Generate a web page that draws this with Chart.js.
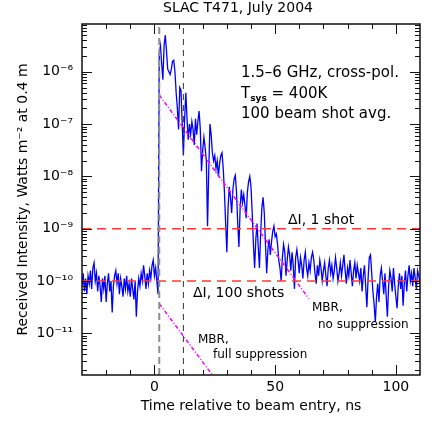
<!DOCTYPE html>
<html>
<head>
<meta charset="utf-8">
<script src="https://cdn.jsdelivr.net/npm/chart.js@4.4.1/dist/chart.umd.min.js"></script>
<style>
  html, body { margin: 0; padding: 0; background: #fff; }
</style>
</head>
<body>
<canvas id="pulse-chart" width="443" height="443"></canvas>
<script>
// averaged trace, sampled every 0.5 ns starting at -30 ns
const traceStart = -30;
const traceStep = 0.5;
// log10 of received intensity (W m^-2 at 0.4 m), one entry per sample
const traceLog = [
    -10.1, -9.85, -10.2, -9.95, -10.25, -9.9, -10.05, -9.8, -10.15, -9.75,
    -9.65, -10.0, -9.85, -10.2, -9.9, -10.1, -10.4, -9.95, -10.15, -9.9,
    -10.4, -10.05, -9.85, -10.2, -10.0, -10.6, -10.1, -9.9, -9.8, -10.05,
    -9.85, -10.25, -9.95, -10.1, -10.3, -9.95, -10.15, -9.9, -10.2, -10.05,
    -10.3, -9.95, -10.15, -10.35, -10.0, -10.68, -10.2, -9.95, -10.1, -9.85,
    -10.0, -9.7, -9.9, -10.15, -9.85, -10.05, -9.8, -9.95, -9.7, -9.6,
    -9.9, -9.75, -10.0, -10.25,
    -5.65, -5.5, -5.85, -6.15, -5.5, -5.3, -5.6, -5.95, -6.0, -6.05,
    -5.95, -5.8, -5.78, -6.0, -6.4, -6.7, -7.1, -6.3, -6.35, -7.0,
    -7.6, -6.9, -6.4, -6.9, -7.3, -7.0, -7.2, -6.95, -7.1, -7.4,
    -6.9, -7.2, -6.95, -6.75, -7.1, -7.9, -7.5, -7.25, -7.45, -7.7,
    -8.95, -7.9, -7.0, -7.2, -7.55, -7.7, -7.6, -7.85, -7.7, -8.0,
    -7.75, -7.6, -7.55, -7.85, -8.3, -8.9, -9.45, -8.6, -8.2, -8.4,
    -8.7, -8.25, -8.05, -7.98, -8.3, -8.9, -9.35, -8.6, -8.25, -8.5,
    -8.35, -8.55, -8.8, -8.3, -8.1, -8.0, -8.2, -8.7, -9.3, -9.75,
    -9.2, -8.9, -9.35, -9.75, -9.1, -8.6, -8.4, -8.7, -9.3, -9.85,
    -9.4, -9.2, -9.5, -9.25, -9.05, -8.95, -9.15, -9.1, -9.3, -9.6,
    -9.75, -10.0, -9.55, -9.3, -9.45, -9.9, -9.6, -9.35, -9.5, -9.8,
    -9.45, -9.7, -10.15, -9.55, -9.4,
    -9.6, -9.85, -9.55, -9.7, -9.95, -9.6, -9.45, -9.75, -9.9, -9.65,
    -9.8, -9.55, -9.45, -9.6, -9.85, -10.05, -9.7, -9.9, -9.6, -9.75,
    -10.0, -9.8, -9.65, -9.9, -10.1, -9.75, -9.6, -9.85, -9.7, -9.95,
    -9.8, -9.55, -9.75, -10.0, -9.85, -9.65, -9.9, -9.7, -9.5, -9.8,
    -10.05, -9.75, -9.9, -9.6, -9.85, -10.1, -9.8, -9.65, -9.95, -9.7,
    -9.85, -10.0, -9.75, -10.2, -9.9, -9.7, -10.1, -10.5, -9.95, -9.55,
    -9.5, -9.85, -10.2, -10.45, -10.78, -10.3, -10.05, -10.4, -9.9, -9.75,
    -10.0, -10.25, -9.85, -10.3, -10.68, -10.1, -9.8, -9.95, -10.2, -9.75,
    -10.05, -10.3, -10.52, -10.1, -9.85, -10.15, -9.9, -10.47, -10.05, -9.8,
    -10.2, -9.9, -9.7, -10.0, -9.85, -10.1, -9.75, -9.95, -10.15, -9.8,
    -9.9, -10.05
];

// marker times (ns)
const beamEntry = 2;
const gateEnd = 12;
// noise levels: 1 shot, 100 shots
const noiseLevels = [1e-9, 1e-10];
// MBR model end points [time, intensity]
const mbrNoSupp = [[2, 3.6e-7], [64, 4.6e-11]];
const mbrFullSupp = [[2, 3.7e-11], [24, 1.6e-12]];

const xRange = [-30, 110];
const yRange = [1.6e-12, 8.2e-6];
const xTickValues = [0, 50, 100];
const yTickValues = [1e-11, 1e-10, 1e-9, 1e-8, 1e-7, 1e-6];

const FONT = "'DejaVu Sans', sans-serif";
const SUP = { '-': '\u207B', '0': '\u2070', '1': '\u00B9', '2': '\u00B2', '3': '\u00B3',
    '4': '\u2074', '5': '\u2075', '6': '\u2076', '7': '\u2077', '8': '\u2078', '9': '\u2079' };

function powLabel(v) {
    const e = String(Math.round(Math.log10(v)));
    return '10' + e.split('').map(c => SUP[c]).join('');
}

const tracePoints = traceLog.map((v, i) => ({ x: traceStart + i * traceStep, y: Math.pow(10, v) }));

const frameAndText = {
    id: 'frameAndText',
    afterDatasetsDraw(chart) {
        const { ctx, chartArea: a, scales: { x, y } } = chart;
        ctx.save();
        ctx.strokeStyle = '#111';
        ctx.lineWidth = 1;
        ctx.beginPath();
        // x ticks, every 10 ns, long ones every 50
        for (let t = -20; t < xRange[1]; t += 10) {
            const px = Math.round(x.getPixelForValue(t)) + 0.5;
            const len = t % 50 === 0 ? 10 : 5;
            ctx.moveTo(px, a.bottom); ctx.lineTo(px, a.bottom - len);
            ctx.moveTo(px, a.top); ctx.lineTo(px, a.top + len);
        }
        // y ticks, decades and 2..9 minors
        for (let d = -12; d <= -5; d++) {
            for (let k = 1; k <= 9; k++) {
                const v = k * Math.pow(10, d);
                if (v < yRange[0] || v > yRange[1]) continue;
                const py = Math.round(y.getPixelForValue(v)) + 0.5;
                const len = k === 1 ? 10 : 5;
                ctx.moveTo(a.left, py); ctx.lineTo(a.left + len, py);
                ctx.moveTo(a.right, py); ctx.lineTo(a.right - len, py);
            }
        }
        ctx.stroke();
        ctx.lineWidth = 1.5;
        ctx.strokeRect(a.left, a.top, a.right - a.left, a.bottom - a.top);

        ctx.fillStyle = '#000';
        ctx.textBaseline = 'middle';
        ctx.textAlign = 'center';
        ctx.font = '14px ' + FONT;
        ctx.fillText('SLAC T471, July 2004', 238, 8);
        ctx.fillText('Time relative to beam entry, ns', (a.left + a.right) / 2, 406);

        ctx.save();
        ctx.translate(23, (a.top + a.bottom) / 2);
        ctx.rotate(-Math.PI / 2);
        ctx.fillText('Received Intensity, Watts m\u207B\u00B2 at 0.4 m', 0, 0);
        ctx.restore();

        ctx.textAlign = 'left';
        ctx.font = '15px ' + FONT;
        ctx.fillText('1.5\u20136 GHz, cross-pol.', 241, 73);
        ctx.fillText('T', 241, 94);
        let w = ctx.measureText('T').width;
        ctx.font = 'bold 9px ' + FONT;
        ctx.fillText('sys', 241 + w, 99);
        w += ctx.measureText('sys').width;
        ctx.font = '15px ' + FONT;
        ctx.fillText(' = 400K', 241 + w, 94);
        ctx.fillText('100 beam shot avg.', 241, 114);

        ctx.font = '14px ' + FONT;
        ctx.fillText('\u0394I, 1 shot', 288, 220);
        ctx.fillText('\u0394I, 100 shots', 193, 293);

        ctx.font = '12px ' + FONT;
        ctx.fillText('MBR,', 312, 308);
        ctx.fillText('no suppression', 318, 325);
        ctx.fillText('MBR,', 198, 340);
        ctx.fillText('full suppression', 213, 355);
        ctx.restore();
    }
};

const line = (pts, color, width, dash) => ({
    data: pts.map(p => ({ x: p[0], y: p[1] })),
    borderColor: color,
    borderWidth: width,
    borderDash: dash,
    pointRadius: 0,
    fill: false,
});

const ctx = document.getElementById('pulse-chart').getContext('2d');
const chart = new Chart(ctx, {
    type: 'line',
    data: {
        datasets: [
            line([[beamEntry, yRange[0]], [beamEntry, yRange[1]]], '#8f8f8f', 2, [7, 4]),
            line([[gateEnd, yRange[0]], [gateEnd, yRange[1]]], '#333', 1, [6, 5]),
            line([[xRange[0], noiseLevels[0]], [xRange[1], noiseLevels[0]]], '#ff3a3a', 1.6, [9, 6]),
            line([[xRange[0], noiseLevels[1]], [xRange[1], noiseLevels[1]]], '#ff3a3a', 1.6, [9, 6]),
            line(mbrNoSupp, '#ff00ff', 1.5, [4, 2, 1, 2]),
            line(mbrFullSupp, '#ff00ff', 1.5, [4, 2, 1, 2]),
            {
                data: tracePoints,
                borderColor: '#0000ff',
                borderWidth: 1.3,
                pointRadius: 0,
                fill: false,
            },
        ],
    },
    options: {
        responsive: false,
        animation: false,
        layout: { padding: { top: 24, right: 23, left: 0, bottom: 0 } },
        plugins: {
            legend: { display: false },
            tooltip: { enabled: false },
            title: { display: false },
        },
        scales: {
            x: {
                type: 'linear',
                min: xRange[0],
                max: xRange[1],
                afterBuildTicks: s => { s.ticks = xTickValues.map(v => ({ value: v })); },
                afterFit: s => { s.height = 68; },
                ticks: { color: '#000', font: { family: FONT, size: 14 }, padding: 4, maxRotation: 0, autoSkip: false },
                grid: { display: false, drawTicks: false },
                border: { display: false },
            },
            y: {
                type: 'logarithmic',
                min: yRange[0],
                max: yRange[1],
                afterBuildTicks: s => { s.ticks = yTickValues.map(v => ({ value: v })); },
                afterFit: s => { s.width = 82; },
                ticks: { color: '#000', font: { family: FONT, size: 14 }, padding: 9, callback: v => powLabel(v) },
                grid: { display: false, drawTicks: false },
                border: { display: false },
            },
        },
    },
    plugins: [frameAndText],
});
</script>
</body>
</html>
